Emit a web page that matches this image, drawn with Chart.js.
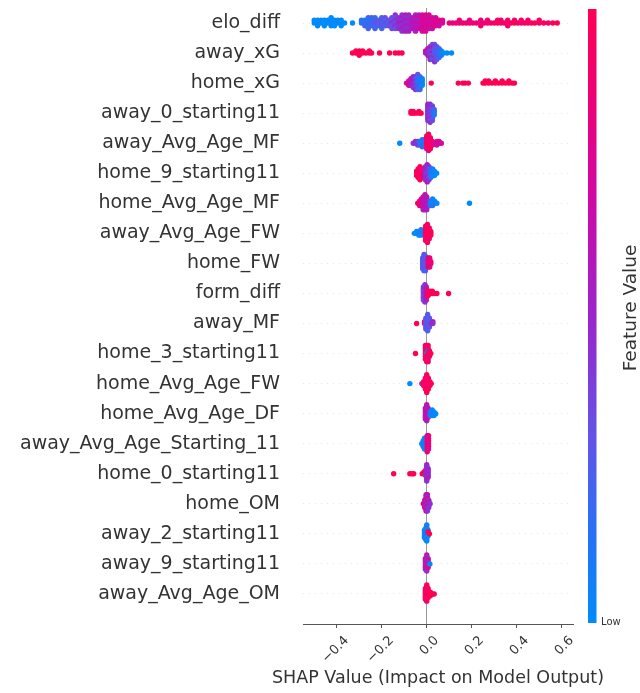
<!DOCTYPE html>
<html>
<head>
<meta charset="utf-8">
<script src="https://cdn.jsdelivr.net/npm/chart.js@4.4.1/dist/chart.umd.min.js"></script>
<style>
html, body { margin: 0; padding: 0; background: #fff; }
#wrap { width: 640px; height: 693px; position: relative; }
</style>
</head>
<body>
<div id="wrap"><canvas id="shapChart"></canvas></div>
<script>
const features = [
    'elo_diff', 'away_xG', 'home_xG', 'away_0_starting11', 'away_Avg_Age_MF',
    'home_9_starting11', 'home_Avg_Age_MF', 'away_Avg_Age_FW', 'home_FW', 'form_diff',
    'away_MF', 'home_3_starting11', 'home_Avg_Age_FW', 'home_Avg_Age_DF',
    'away_Avg_Age_Starting_11', 'home_0_starting11', 'home_OM', 'away_2_starting11',
    'away_9_starting11', 'away_Avg_Age_OM',
];
const xTicks = [-0.4, -0.2, 0.0, 0.2, 0.4, 0.6];
const xTitle = 'SHAP Value (Impact on Model Output)';

// one entry per bin: [shap value, feature value levels of its points, 0 = low .. 9 = high, top to bottom]
const eloDiff = [
    [-0.50, '00'], [-0.485, '000'], [-0.47, '00'], [-0.455, '000'], [-0.44, '00'],
    [-0.425, '0000'], [-0.41, '000'], [-0.395, '00'], [-0.38, '000'], [-0.365, '0'],
    [-0.33, '0'],
    [-0.29, '11'], [-0.275, '122'], [-0.26, '21212'], [-0.245, '2122'], [-0.23, '22322'],
    [-0.215, '232'], [-0.20, '23232'], [-0.185, '3232'], [-0.17, '323'], [-0.155, '33433'],
    [-0.14, '434343'], [-0.125, '44544'], [-0.11, '4545454'], [-0.095, '5454545'],
    [-0.08, '5454545'], [-0.065, '55655'], [-0.05, '5656565'], [-0.035, '565656'],
    [-0.02, '6767676'], [-0.005, '7676767'], [0.01, '767676'], [0.025, '67676'],
    [0.04, '7677'], [0.055, '776'], [0.07, '77'],
    [0.10, '8'], [0.115, '7'], [0.13, '8'], [0.145, '87'], [0.16, '8'], [0.175, '8'],
    [0.19, '78'], [0.205, '8'], [0.22, '8'], [0.24, '878'], [0.255, '8'], [0.27, '88'],
    [0.285, '8'], [0.30, '8'], [0.315, '89'], [0.33, '88'], [0.345, '8'], [0.36, '898'],
    [0.375, '8'], [0.39, '89'], [0.405, '8'], [0.42, '98'], [0.435, '8'], [0.45, '89'],
    [0.465, '8'], [0.48, '9'], [0.50, '98'], [0.52, '9'], [0.54, '8'], [0.56, '9'], [0.58, '9'],
];
const awayXG = [
    [-0.33, '9'], [-0.315, '99'], [-0.30, '999'], [-0.285, '99'], [-0.27, '9'],
    [-0.255, '99'], [-0.245, '9'], [-0.21, '9'], [-0.165, '9'], [-0.14, '9'],
    [-0.125, '9'], [-0.11, '9'],
    [-0.005, '75'], [0.005, '6545'], [0.015, '4534354'], [0.025, '34535343'],
    [0.035, '343232434'], [0.045, '3232323'], [0.055, '21212'], [0.065, '101'],
    [0.075, '0'], [0.09, '0'], [0.11, '0'],
];
const homeXG = [
    [-0.09, '7'], [-0.08, '767'], [-0.07, '6565'], [-0.06, '545454'], [-0.05, '4343434'],
    [-0.04, '32121232'], [-0.03, '2101212'], [-0.02, '1010'],
    [0.02, '9'], [0.14, '9'], [0.16, '9'], [0.17, '9'], [0.185, '9'],
    [0.25, '9'], [0.26, '99'], [0.275, '99'], [0.29, '9'], [0.305, '99'], [0.32, '9'],
    [0.335, '99'], [0.35, '9'], [0.365, '99'], [0.38, '9'], [0.39, '9'],
];
const away0Starting11 = [
    [-0.07, '99'], [-0.06, '99'], [-0.05, '9'], [-0.035, '99'], [-0.025, '9'],
    [0.005, '5454545454'], [0.015, '45434343534'], [0.025, '343232423'], [0.033, '2121'],
];
const awayAvgAgeMF = [
    [-0.12, '0'], [-0.06, '4'], [-0.05, '54'], [-0.04, '434'], [-0.03, '121'],
    [-0.02, '21012'], [-0.01, '1212'],
    [0.0, '98979897'], [0.008, '8979898987'], [0.016, '9897989'], [0.025, '878'],
    [0.035, '7'], [0.045, '676'], [0.055, '77'], [0.065, '6'],
];
const home9Starting11 = [
    [-0.045, '999'], [-0.038, '89898'], [-0.03, '9898989'], [-0.022, '98989'],
    [-0.014, '8787'], [-0.006, '4545454'], [0.002, '545434545'], [0.01, '4343434'],
    [0.018, '21212'], [0.026, '1010'], [0.034, '010'], [0.044, '0'],
];
const homeAvgAgeMF = [
    [-0.04, '8'], [-0.032, '878'], [-0.024, '7878'], [-0.016, '5656565'],
    [-0.008, '65656565'], [0.0, '5656565'], [0.01, '454'], [0.018, '101'],
    [0.026, '0101'], [0.035, '01'], [0.045, '0'], [0.19, '0'],
];
const awayAvgAgeFW = [
    [-0.055, '0'], [-0.045, '00'], [-0.035, '010'], [-0.025, '1010'], [-0.015, '21'],
    [-0.005, '898989898'], [0.003, '98989898989'], [0.011, '8989898'], [0.018, '989'],
];
const homeFW = [
    [-0.018, '2323232'], [-0.012, '3232323232'], [-0.006, '232323232'],
    [0.007, '787878'], [0.013, '878787'], [0.018, '78'],
];
const formDiff = [
    [-0.015, '3434343'], [-0.008, '434343434'], [-0.002, '5656565'], [0.006, '989'],
    [0.015, '99'], [0.025, '99'], [0.035, '9'], [0.045, '9'], [0.097, '9'],
];
const awayMF = [
    [-0.045, '9'], [-0.01, '98'], [-0.004, '2323232'], [0.004, '3232323232'],
    [0.012, '232323'], [0.02, '4'], [0.027, '54'],
];
const home3Starting11 = [
    [-0.05, '9'], [-0.006, '989898'], [0.0, '8980989'], [0.006, '9809898'],
    [0.012, '898'], [0.018, '9'],
];
const homeAvgAgeFW = [
    [-0.075, '0'], [-0.022, '4'], [-0.014, '898'], [-0.006, '9898989'],
    [0.0, '98989898989'], [0.007, '9898989'], [0.014, '898'], [0.02, '9'],
];
const homeAvgAgeDF = [
    [-0.006, '5656565'], [0.0, '6565656565'], [0.006, '565656'], [0.016, '010'],
    [0.024, '0101'], [0.032, '010'], [0.04, '0'],
];
const awayAvgAgeStarting11 = [
    [-0.022, '0'], [-0.016, '101'], [-0.01, '01010'], [-0.004, '1010'],
    [0.002, '6787878'], [0.008, '878787'],
];
const home0Starting11 = [
    [-0.147, '9'], [-0.075, '9'], [-0.065, '9'], [-0.058, '9'], [-0.02, '9'],
    [-0.012, '99'], [-0.005, '9454'], [0.0, '5454545454'], [0.006, '454545'],
];
const homeOM = [
    [-0.015, '8'], [-0.009, '74747'], [-0.003, '4747474747'], [0.003, '7474747474'],
    [0.009, '47474'], [0.015, '4'],
];
const away2Starting11 = [
    [-0.01, '00101'], [-0.005, '0101010'], [0.0, '1010101010'], [0.006, '0990'], [0.012, '9'],
];
const away9Starting11 = [
    [-0.006, '4747474'], [0.0, '7474747474'], [0.006, '474747'], [0.014, '0'],
];
const awayAvgAgeOM = [
    [-0.006, '8989898'], [0.0, '9898989898'], [0.006, '898989'], [0.016, '999'],
    [0.026, '9'], [0.033, '9'],
];

const rows = [
    eloDiff, awayXG, homeXG, away0Starting11, awayAvgAgeMF, home9Starting11, homeAvgAgeMF,
    awayAvgAgeFW, homeFW, formDiff, awayMF, home3Starting11, homeAvgAgeFW, homeAvgAgeDF,
    awayAvgAgeStarting11, home0Starting11, homeOM, away2Starting11, away9Starting11, awayAvgAgeOM,
];

// blue -> purple -> red, like shap's red_blue map
const cmapStops = [
    [0.0, [0, 139, 251]],
    [0.15, [40, 112, 246]],
    [0.3, [98, 84, 232]],
    [0.5, [155, 36, 204]],
    [0.7, [210, 8, 162]],
    [0.85, [238, 0, 120]],
    [1.0, [255, 0, 82]],
];

function rgb(c) {
    return `rgb(${Math.round(c[0])},${Math.round(c[1])},${Math.round(c[2])})`;
}

function featureColor(level) {
    const t = level / 9;
    for (let i = 1; i < cmapStops.length; i++) {
        const [t1, c1] = cmapStops[i];
        const [t0, c0] = cmapStops[i - 1];
        if (t <= t1) {
            const f = (t - t0) / (t1 - t0);
            return rgb([0, 1, 2].map(k => c0[k] + (c1[k] - c0[k]) * f));
        }
    }
    return rgb(cmapStops[cmapStops.length - 1][1]);
}

// beeswarm stacking: points of a bin spread up and down, scaled to fit the row
function buildPoints() {
    const points = [];
    const colors = [];
    rows.forEach((entries, row) => {
        let maxOff = 0;
        entries.forEach(e => {
            maxOff = Math.max(maxOff, Math.ceil((e[1].length - 1) / 2));
        });
        const unit = 0.9 * 0.4 / (maxOff + 1);
        entries.forEach(([shap, levels]) => {
            const n = levels.length;
            const top = Math.ceil((n - 1) / 2);
            for (let k = 0; k < n; k++) {
                points.push({ x: shap, y: row - (top - k) * unit });
                colors.push(featureColor(+levels[k]));
            }
        });
    });
    return { points, colors };
}

// colour bar, its labels and the x axis title
const colorBar = {
    id: 'colorBar',
    afterDraw(chart) {
        const ctx = chart.ctx;
        const area = chart.chartArea;
        const x = area.right + 15;
        const top = area.top + 1;
        const bottom = area.bottom - 1;
        const grad = ctx.createLinearGradient(0, bottom, 0, top);
        cmapStops.forEach(s => grad.addColorStop(s[0], rgb(s[1])));
        ctx.save();
        ctx.fillStyle = grad;
        ctx.fillRect(x, top, 8.5, bottom - top);
        ctx.fillStyle = '#333';
        ctx.font = '10px "DejaVu Sans"';
        ctx.textAlign = 'left';
        ctx.textBaseline = 'middle';
        ctx.fillText('Low', x + 13, bottom - 1);
        ctx.font = '17.5px "DejaVu Sans"';
        ctx.textAlign = 'center';
        ctx.fillText(xTitle, (area.left + area.right) / 2, 678);
        ctx.translate(631, 308);
        ctx.rotate(-Math.PI / 2);
        ctx.font = '18.5px "DejaVu Sans"';
        ctx.fillText('Feature Value', 0, 0);
        ctx.restore();
    },
};

const swarm = buildPoints();

new Chart(document.getElementById('shapChart'), {
    type: 'scatter',
    data: {
        datasets: [{
            data: swarm.points,
            backgroundColor: swarm.colors,
            pointRadius: 2.7,
            pointHoverRadius: 2.7,
            borderWidth: 0,
        }],
    },
    options: {
        responsive: true,
        maintainAspectRatio: false,
        animation: false,
        events: [],
        layout: { padding: { top: 8, right: 67, left: 0, bottom: 0 } },
        plugins: { legend: { display: false }, tooltip: { enabled: false } },
        scales: {
            x: {
                type: 'linear',
                min: -0.55,
                max: 0.65,
                afterBuildTicks: scale => { scale.ticks = xTicks.map(v => ({ value: v })); },
                afterFit: scale => {
                    scale.height = 69;
                    scale.paddingLeft = 0;
                    scale.paddingRight = 0;
                },
                border: { display: true, color: '#555', width: 1 },
                grid: {
                    color: c => (c.tick && c.tick.value === 0 ? '#999' : 'rgba(0,0,0,0)'),
                    tickColor: '#555',
                    tickLength: 4,
                },
                ticks: {
                    autoSkip: false,
                    minRotation: 45,
                    maxRotation: 45,
                    labelOffset: 10,
                    padding: 5,
                    color: '#333',
                    font: { family: 'DejaVu Sans', size: 13 },
                    callback: v => (v < 0 ? '\u2212' : '') + Math.abs(v).toFixed(1),
                },
            },
            y: {
                type: 'linear',
                reverse: true,
                min: -0.5,
                max: 20,
                afterBuildTicks: scale => { scale.ticks = features.map((f, i) => ({ value: i })); },
                afterFit: scale => {
                    scale.width = 303;
                    scale.paddingTop = 0;
                    scale.paddingBottom = 0;
                },
                border: { display: false, dash: [1, 5] },
                grid: { color: '#ccc', lineWidth: 0.5, drawTicks: false },
                ticks: {
                    autoSkip: false,
                    padding: 23,
                    color: '#333',
                    font: { family: 'DejaVu Sans', size: 19 },
                    callback: v => features[v],
                },
            },
        },
    },
    plugins: [colorBar],
});
</script>
</body>
</html>
